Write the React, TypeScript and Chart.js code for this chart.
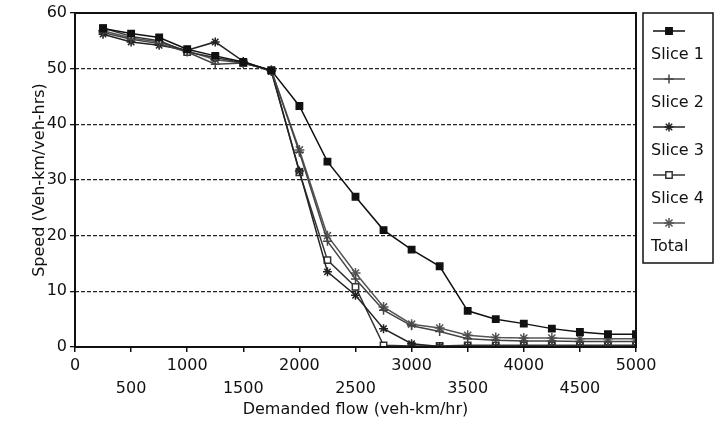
import React, { useEffect, useRef } from "react";
import { Chart, registerables } from "chart.js";

Chart.register(...registerables);

const flows = [250, 500, 750, 1000, 1250, 1500, 1750, 2000, 2250, 2500, 2750, 3000, 3250, 3500, 3750, 4000, 4250, 4500, 4750, 5000];
const slice1 = [57.2, 56.3, 55.6, 53.5, 52.3, 51.2, 49.7, 43.3, 33.3, 27.0, 21.0, 17.5, 14.5, 6.5, 5.0, 4.2, 3.3, 2.7, 2.3, 2.3];
const slice2 = [56.5, 55.3, 54.5, 53.0, 50.8, 51.0, 49.7, 35.0, 19.0, 12.2, 6.6, 3.8, 2.8, 1.5, 1.2, 1.1, 1.1, 1.0, 1.0, 1.0];
const slice3 = [56.2, 54.8, 54.2, 53.3, 54.8, 51.3, 49.5, 31.6, 13.5, 9.3, 3.3, 0.6, 0.1, 0.1, 0.1, 0.1, 0.1, 0.1, 0.1, 0.1];
const slice4 = [57.3, 55.8, 55.0, 53.0, 52.0, 51.0, 49.7, 31.4, 15.6, 10.8, 0.3, 0.2, 0.2, 0.3, 0.3, 0.3, 0.3, 0.3, 0.3, 0.3];
const total = [56.8, 55.5, 54.8, 53.2, 51.6, 51.0, 49.7, 35.4, 20.0, 13.3, 7.2, 4.1, 3.4, 2.1, 1.7, 1.6, 1.6, 1.5, 1.5, 1.5];
const seriesNames = ["Slice 1", "Slice 2", "Slice 3", "Slice 4", "Total"];
const xTicks = [0, 500, 1000, 1500, 2000, 2500, 3000, 3500, 4000, 4500, 5000];
const yTicks = [0, 10, 20, 30, 40, 50, 60];

const FONT = "'DejaVu Sans', Arial, Helvetica, sans-serif";

const styles = [
  { color: "#111", pointStyle: "rect", fill: "#111", radius: 4.5 },
  { color: "#444", pointStyle: "cross", fill: "#444", radius: 4.5 },
  { color: "#222", pointStyle: "star", fill: "#222", radius: 4.5 },
  { color: "#333", pointStyle: "rect", fill: "#fff", radius: 4.5 },
  { color: "#555", pointStyle: "star", fill: "#555", radius: 5 },
];

export default function App() {
  const ref = useRef<HTMLCanvasElement | null>(null);
  useEffect(() => {
    document.body.style.margin = "0";
    const canvas = ref.current;
    if (!canvas) return;
    const allSeries = [slice1, slice2, slice3, slice4, total];
    const datasets = allSeries.map((vals, i) => ({
      label: seriesNames[i],
      data: flows.map((f, j) => ({ x: f, y: vals[j] })),
      borderColor: styles[i].color,
      backgroundColor: styles[i].fill,
      pointBorderColor: styles[i].color,
      pointBackgroundColor: styles[i].fill,
      pointStyle: styles[i].pointStyle as any,
      pointRadius: styles[i].radius,
      pointBorderWidth: 1.5,
      borderWidth: 1.5,
      tension: 0,
    }));

    const boxPlugin = {
      id: "boxAndLegend",
      afterDraw(chart: any) {
        const { ctx, chartArea } = chart;
        ctx.save();
        ctx.strokeStyle = "#111";
        ctx.lineWidth = 2;
        ctx.strokeRect(chartArea.left, chartArea.top, chartArea.right - chartArea.left, chartArea.bottom - chartArea.top);
        const lx = 643, ly = 13, lw = 70, lh = 250;
        ctx.lineWidth = 1.5;
        ctx.strokeRect(lx, ly, lw, lh);
        ctx.font = `16px ${FONT}`;
        ctx.fillStyle = "#111";
        ctx.textAlign = "left";
        ctx.textBaseline = "middle";
        seriesNames.forEach((name, i) => {
          const my = 31 + i * 48;
          ctx.strokeStyle = styles[i].color;
          ctx.lineWidth = 1.5;
          ctx.beginPath();
          ctx.moveTo(653, my);
          ctx.lineTo(685, my);
          ctx.stroke();
          const el = chart.getDatasetMeta(i).data[0];
          if (el) {
            const ox = el.x, oy = el.y;
            el.x = 669; el.y = my;
            el.draw(ctx, { left: 0, top: 0, right: 715, bottom: 421 });
            el.x = ox; el.y = oy;
          }
          ctx.fillStyle = "#111";
          ctx.fillText(name, 651, my + 24);
        });
        ctx.restore();
      },
    };

    const chart = new Chart(canvas, {
      type: "line",
      data: { datasets },
      options: {
        animation: false,
        responsive: false,
        layout: { padding: { left: 0, top: 13, right: 79, bottom: 0 } },
        plugins: { legend: { display: false }, tooltip: { enabled: false } },
        scales: {
          x: {
            type: "linear",
            min: 0,
            max: 5000,
            afterBuildTicks: (s: any) => { s.ticks = xTicks.map((v) => ({ value: v })); },
            afterFit: (s: any) => { s.height = 74; },
            ticks: {
              color: "#111",
              font: { family: FONT, size: 16, lineHeight: 1.45 },
              padding: 2,
              maxRotation: 0,
              autoSkip: false,
              callback: (v: any) => (Number(v) % 1000 === 0 ? [String(v), ""] : ["", String(v)]),
            },
            grid: { drawOnChartArea: false, drawTicks: true, tickLength: 5, color: "#111", lineWidth: 1.5 },
            border: { display: false },
            title: {
              display: true,
              text: "Demanded flow (veh-km/hr)",
              color: "#111",
              font: { family: FONT, size: 16 },
              padding: { top: 0, bottom: 2 },
            },
          },
          y: {
            type: "linear",
            min: 0,
            max: 60,
            afterBuildTicks: (s: any) => { s.ticks = yTicks.map((v) => ({ value: v })); },
            afterFit: (s: any) => { s.width = 75; },
            ticks: { color: "#111", font: { family: FONT, size: 16 }, padding: 3 },
            grid: {
              drawTicks: true,
              tickLength: 5,
              color: (c: any) => (c.tick && (c.tick.value === 0 || c.tick.value === 60) ? "rgba(0,0,0,0)" : "#222"),
              lineWidth: 1.3,
              tickColor: "#111",
            } as any,
            border: { display: false, dash: [4, 2] },
            title: {
              display: true,
              text: "Speed (Veh-km/veh-hrs)",
              color: "#111",
              font: { family: FONT, size: 16 },
              padding: { top: 30, bottom: 0 },
            },
          },
        },
      },
      plugins: [boxPlugin],
    });
    return () => chart.destroy();
  }, []);
  return (
    <div style={{ width: 715, height: 421 }}>
      <canvas ref={ref} width={715} height={421} />
    </div>
  );
}
